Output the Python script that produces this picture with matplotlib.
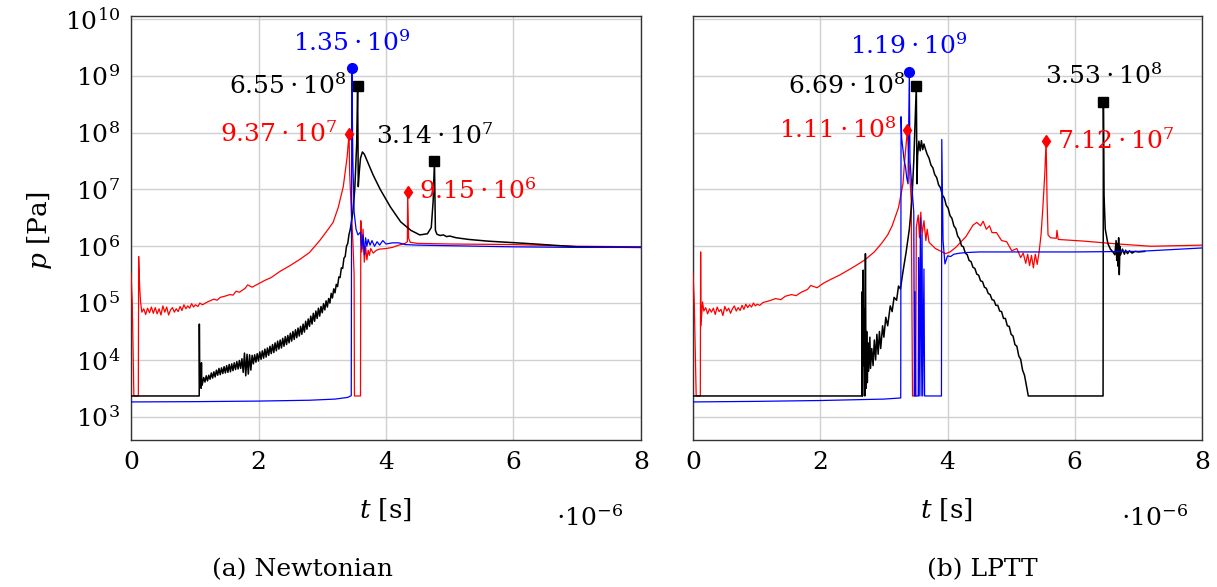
import numpy as np
import matplotlib
matplotlib.use("Agg")
import matplotlib.pyplot as plt
from matplotlib.ticker import FixedLocator, NullLocator

plt.rcParams['font.family'] = ['DejaVu Serif']
plt.rcParams['mathtext.fontset'] = 'dejavuserif'
FS = 18

# time axis in units of 1e-6 s, pressure stored as log10(p / Pa)

# ---- (a) Newtonian ----
newt_red_t = [0.00, 0.02, 0.045, 0.115, 0.12, 0.135, 0.15,
              0.17, 0.20, 0.23, 0.26, 0.29, 0.32, 0.35, 0.38, 0.41, 0.44, 0.47, 0.50,
              0.53, 0.56, 0.59, 0.62, 0.65, 0.68, 0.71, 0.74, 0.77, 0.80, 0.83, 0.86,
              0.89, 0.92, 0.95, 0.98, 1.01, 1.05, 1.08, 1.12, 1.20, 1.30, 1.35, 1.40,
              1.50, 1.55, 1.60, 1.65, 1.70, 1.79, 1.83, 1.90, 2.00, 2.10, 2.20, 2.34,
              2.48, 2.65, 2.80, 2.96, 3.08, 3.17, 3.25, 3.33, 3.39, 3.42,
              3.43, 3.46, 3.48, 3.50, 3.505, 3.60, 3.605, 3.62, 3.64, 3.66, 3.68, 3.70,
              3.72, 3.74, 3.76, 3.80, 3.85, 3.90, 4.00, 4.10, 4.20, 4.30, 4.335, 4.34,
              4.355, 4.38, 4.50, 5.00, 6.00, 7.00, 8.00]
newt_red_lp = [5.52, 5.00, 3.365, 3.365, 5.82, 5.30, 5.02,
               4.84, 4.90, 4.80, 4.91, 4.83, 4.93, 4.82, 4.92, 4.81, 4.90, 4.79, 4.95,
               4.84, 4.93, 4.79, 4.88, 4.92, 4.84, 4.90, 4.85, 4.94, 4.87, 4.97, 4.90,
               4.95, 4.91, 4.99, 4.93, 4.97, 4.94, 5.00, 4.97, 5.02, 5.07, 5.05, 5.10,
               5.13, 5.15, 5.14, 5.21, 5.19, 5.26, 5.32, 5.28, 5.34, 5.40, 5.45, 5.56,
               5.65, 5.77, 5.89, 6.10, 6.28, 6.42, 6.68, 7.05, 7.57, 7.9717,
               7.30, 6.50, 6.10, 5.50, 3.365, 3.365, 6.45, 5.90, 6.30, 5.72, 6.00, 5.76,
               5.93, 5.84, 5.96, 5.88, 5.93, 5.95, 5.96, 5.98, 6.02, 6.05, 6.08, 6.9614,
               6.14, 6.07, 6.05, 6.04, 6.03, 6.00, 5.99]

# black: floor, jump at t~1.07, then a dense noisy band rising to the peak
newt_black_t = [0.00, 1.07, 1.072, 1.078, 1.10, 1.105, 1.11,
                1.12, 1.14, 1.16, 1.18, 1.20, 1.22, 1.24, 1.26, 1.28, 1.30, 1.32, 1.34,
                1.36, 1.38, 1.40, 1.42, 1.44, 1.46, 1.48, 1.50, 1.52, 1.54, 1.56, 1.58,
                1.60, 1.62, 1.64, 1.66, 1.68, 1.70, 1.72, 1.74, 1.76, 1.78, 1.80, 1.82,
                1.84, 1.86, 1.88, 1.90, 1.92, 1.94, 1.96, 1.98, 2.00, 2.02, 2.04, 2.06,
                2.08, 2.10, 2.12, 2.14, 2.16, 2.18, 2.20, 2.22, 2.24, 2.26, 2.28, 2.30,
                2.32, 2.34, 2.36, 2.38, 2.40, 2.42, 2.44, 2.46, 2.48, 2.50, 2.52, 2.54,
                2.56, 2.58, 2.60, 2.62, 2.64, 2.66, 2.68, 2.70, 2.72, 2.74, 2.76, 2.78,
                2.80, 2.82, 2.84, 2.86, 2.88, 2.90, 2.92, 2.94, 2.96, 2.98, 3.00, 3.02,
                3.04, 3.06, 3.08, 3.10, 3.12, 3.14, 3.16, 3.18, 3.20, 3.22, 3.24, 3.26,
                3.28, 3.30, 3.32, 3.34, 3.36, 3.38, 3.40, 3.42, 3.44, 3.48, 3.51, 3.54,
                3.555,
                3.565, 3.58, 3.60, 3.63, 3.66, 3.72, 3.80, 3.91, 4.07, 4.23, 4.39, 4.53,
                4.65, 4.71, 4.74, 4.76, 4.775, 4.80, 4.85, 4.90, 4.95, 5.00, 5.10, 5.30,
                5.60, 6.20, 7.00, 8.00]
newt_black_lp = [3.365, 3.365, 4.63, 3.60, 3.50, 3.95, 3.55,
                 3.58, 3.69, 3.61, 3.72, 3.63, 3.73, 3.66, 3.77, 3.68, 3.79, 3.70, 3.82,
                 3.73, 3.85, 3.74, 3.86, 3.76, 3.88, 3.77, 3.90, 3.78, 3.92, 3.79, 3.93,
                 3.81, 3.95, 3.83, 3.97, 3.84, 3.99, 3.85, 4.02, 3.78, 4.12, 3.72, 4.10,
                 3.75, 4.09, 3.82, 4.08, 3.93, 4.09, 3.96, 4.11, 3.98, 4.14, 4.01, 4.16,
                 4.03, 4.19, 4.05, 4.21, 4.08, 4.24, 4.11, 4.27, 4.13, 4.30, 4.16, 4.33,
                 4.19, 4.35, 4.21, 4.38, 4.24, 4.41, 4.27, 4.43, 4.30, 4.47, 4.33, 4.50,
                 4.36, 4.53, 4.39, 4.56, 4.42, 4.59, 4.45, 4.63, 4.49, 4.68, 4.54, 4.72,
                 4.59, 4.77, 4.63, 4.82, 4.68, 4.86, 4.73, 4.91, 4.77, 4.94, 4.83, 4.99,
                 4.88, 5.04, 4.93, 5.08, 5.00, 5.17, 5.09, 5.25, 5.18, 5.33, 5.29, 5.46,
                 5.45, 5.62, 5.61, 5.79, 5.82, 6.00, 6.05, 6.21, 6.30, 6.60, 7.00, 7.80,
                 8.8162,
                 7.05, 7.30, 7.55, 7.66, 7.62, 7.46, 7.25, 7.00, 6.69, 6.43, 6.28, 6.20,
                 6.22, 6.33, 6.80, 7.4969, 6.28, 6.21, 6.19, 6.20, 6.17, 6.18, 6.15, 6.12,
                 6.09, 6.05, 5.99, 5.98]

newt_blue_t = [0.00, 1.00, 2.00, 2.80, 3.20, 3.40, 3.455, 3.464, 3.48, 3.50, 3.53,
               3.56, 3.60, 3.62, 3.64, 3.66, 3.68, 3.70, 3.72, 3.75, 3.78, 3.82, 3.86,
               3.90, 3.95, 4.00, 4.10, 4.20, 4.30, 4.50, 5.00, 6.00, 7.00, 8.00]
newt_blue_lp = [3.26, 3.265, 3.275, 3.29, 3.31, 3.34, 3.37, 9.1303, 7.50, 6.60, 6.30,
                6.20, 6.25, 5.95, 6.20, 5.85, 6.15, 6.00, 6.12, 6.02, 6.10, 6.00, 6.08,
                6.02, 6.10, 6.04, 6.06, 6.06, 6.03, 6.02, 6.01, 5.99, 5.98, 5.98]

newt_peak_t = {'blue': [3.464], 'black': [3.555, 4.76], 'red': [3.42, 4.34]}
newt_peak_p = {'blue': [1.35e9], 'black': [6.55e8, 3.14e7], 'red': [9.37e7, 9.15e6]}

# ---- (b) LPTT ----
lptt_red_t = [0.00, 0.02, 0.05, 0.115, 0.12, 0.125, 0.15,
              0.17, 0.20, 0.23, 0.26, 0.29, 0.32, 0.35, 0.38, 0.41, 0.44, 0.47, 0.50,
              0.53, 0.56, 0.59, 0.62, 0.65, 0.68, 0.71, 0.74, 0.77, 0.80, 0.83, 0.86,
              0.89, 0.92, 0.95, 0.98, 1.01, 1.05, 1.10, 1.20, 1.30, 1.38, 1.45, 1.55,
              1.62, 1.70, 1.80, 1.85, 1.95, 2.05, 2.17, 2.30, 2.44, 2.56, 2.70, 2.85,
              2.97, 3.06, 3.13, 3.23, 3.30, 3.33, 3.37,
              3.39, 3.43, 3.45, 3.50, 3.51, 3.54, 3.56, 3.58, 3.60, 3.63, 3.66, 3.68,
              3.71, 3.81, 3.97, 4.04, 4.13, 4.29, 4.40, 4.46, 4.52, 4.56, 4.61, 4.66,
              4.70, 4.77, 4.85, 4.93, 5.01, 5.09, 5.15, 5.19, 5.23, 5.26, 5.29, 5.32,
              5.35, 5.38, 5.41, 5.44, 5.47, 5.50, 5.53, 5.55, 5.565, 5.58, 5.62, 5.71,
              5.72, 5.74, 6.15, 6.68, 7.20, 8.00]
lptt_red_lp = [5.52, 5.00, 3.365, 3.365, 5.90, 4.60, 5.02,
               4.86, 4.92, 4.81, 4.90, 4.84, 4.91, 4.80, 4.93, 4.85, 4.89, 4.78, 4.94,
               4.86, 4.91, 4.82, 4.90, 4.95, 4.86, 4.92, 4.87, 4.96, 4.89, 4.98, 4.92,
               4.97, 4.93, 5.00, 4.95, 4.98, 4.96, 5.01, 5.04, 5.08, 5.06, 5.12, 5.15,
               5.13, 5.19, 5.24, 5.31, 5.27, 5.35, 5.42, 5.49, 5.58, 5.66, 5.76, 5.90,
               6.06, 6.20, 6.36, 6.68, 7.10, 7.55, 8.0453,
               7.57, 6.81, 3.365, 3.365, 6.34, 6.55, 6.15, 6.60, 6.20, 6.45, 6.10, 6.30,
               6.07, 5.96, 5.87, 5.90, 5.98, 6.17, 6.37, 6.42, 6.36, 6.44, 6.30, 6.36,
               6.24, 6.24, 6.10, 6.08, 5.92, 5.96, 5.80, 5.88, 5.70, 5.86, 5.66, 5.84,
               5.62, 5.86, 5.68, 5.90, 6.20, 6.70, 7.30, 7.8525, 6.80, 6.20, 6.15, 6.14,
               6.28, 6.12, 6.09, 6.04, 6.00, 6.02]

lptt_black_t = [0.00, 2.655, 2.66, 2.665, 2.675, 2.685, 2.695, 2.70, 2.71, 2.72,
                2.73, 2.74, 2.75, 2.76, 2.78, 2.79, 2.81, 2.83, 2.85, 2.87, 2.89, 2.91,
                2.93, 2.95, 2.98, 3.00, 3.03, 3.06, 3.10, 3.13, 3.16, 3.20, 3.23, 3.26,
                3.30, 3.35, 3.40, 3.44, 3.47, 3.51,
                3.52, 3.53, 3.55, 3.57, 3.59, 3.61, 3.63, 3.65, 3.68,
                3.71, 3.74, 3.77, 3.80, 3.83, 3.86, 3.89, 3.92, 3.95, 3.98, 4.01, 4.04,
                4.07, 4.10, 4.13, 4.16, 4.19, 4.22, 4.25, 4.28, 4.31, 4.34, 4.37, 4.40,
                4.43, 4.46, 4.49, 4.52, 4.55, 4.58, 4.61, 4.64, 4.67, 4.70, 4.73, 4.76,
                4.79, 4.82, 4.85, 4.88, 4.91, 4.94, 4.97, 5.00, 5.03, 5.06, 5.09, 5.12,
                5.15, 5.18, 5.21, 5.24, 5.27, 6.445, 6.45,
                6.46, 6.48, 6.52, 6.56, 6.60, 6.63, 6.65, 6.66, 6.67, 6.68, 6.69, 6.70,
                6.71, 6.72, 6.75, 6.78, 6.80, 6.83, 6.86, 6.90, 6.95, 7.00, 7.10]
lptt_black_lp = [3.365, 3.365, 5.20, 3.365, 5.58, 3.90, 4.90, 3.365, 5.87, 3.50,
                 4.50, 3.60, 4.30, 3.80, 4.40, 3.85, 4.20, 3.90, 4.35, 4.00, 4.45, 4.10,
                 4.50, 4.20, 4.60, 4.40, 4.75, 4.60, 4.95, 4.85, 5.10, 5.05, 5.30, 5.25,
                 5.55, 5.90, 6.30, 6.80, 7.50, 8.8254,
                 7.10, 7.60, 7.85, 7.68, 7.86, 7.70, 7.80, 7.72, 7.62,
                 7.55, 7.43, 7.38, 7.26, 7.21, 7.08, 7.03, 6.90, 6.85, 6.72, 6.67, 6.54,
                 6.49, 6.36, 6.31, 6.18, 6.13, 6.01, 5.99, 5.88, 5.85, 5.75, 5.73, 5.63,
                 5.61, 5.51, 5.49, 5.39, 5.38, 5.28, 5.26, 5.17, 5.15, 5.06, 5.05, 4.96,
                 4.96, 4.86, 4.85, 4.73, 4.73, 4.60, 4.59, 4.45, 4.42, 4.27, 4.24, 4.07,
                 4.01, 3.82, 3.73, 3.55, 3.365, 3.365, 8.5478,
                 6.90, 6.30, 6.05, 5.95, 5.90, 5.85, 6.10, 5.75, 6.05, 5.65, 6.15, 5.50,
                 6.00, 5.85, 5.95, 5.86, 5.93, 5.87, 5.92, 5.88, 5.91, 5.90, 5.91]

lptt_blue_t = [0.00, 1.00, 2.00, 3.00, 3.265, 3.27, 3.28, 3.30, 3.32, 3.34, 3.36,
               3.38, 3.40, 3.41, 3.43, 3.45, 3.47, 3.48, 3.49, 3.50, 3.54, 3.545, 3.555,
               3.575, 3.585, 3.60, 3.61, 3.63, 3.64, 3.905, 3.91, 3.93, 3.96, 4.00,
               4.05, 4.10, 4.20, 4.30, 4.50, 5.00, 6.00, 7.00, 7.50, 8.00]
lptt_blue_lp = [3.26, 3.27, 3.285, 3.31, 3.33, 8.28, 7.90, 7.70, 7.50, 7.40, 7.20,
                7.10, 9.0755, 7.50, 7.20, 6.90, 6.60, 3.365, 5.20, 3.365, 3.365, 5.80,
                3.365, 6.50, 3.365, 6.20, 3.365, 5.60, 3.365, 3.365, 7.88, 6.10, 5.69,
                5.83, 5.82, 5.86, 5.88, 5.89, 5.90, 5.90, 5.90, 5.91, 5.94, 5.97]

lptt_peak_t = {'blue': [3.40], 'black': [3.51, 6.45], 'red': [3.37, 5.55]}
lptt_peak_p = {'blue': [1.19e9], 'black': [6.69e8, 3.53e8], 'red': [1.11e8, 7.12e7]}

# where each peak label sits relative to its marker
newt_label_pos = {'blue': ['above'], 'black': ['left', 'above'], 'red': ['left', 'right']}
lptt_label_pos = {'blue': ['above'], 'black': ['left', 'above'], 'red': ['left', 'right']}

colors = {'red': '#ff0000', 'black': '#000000', 'blue': '#0000ff'}
markers = {'red': ('d', 6), 'black': ('s', 7), 'blue': ('o', 7)}
widths = {'red': 0.9, 'black': 1.1, 'blue': 0.9}


def sci(v):
    e = int(np.floor(np.log10(v)))
    return r'$%.2f\cdot10^{%d}$' % (v / 10**e, e)


def draw_panel(ax, curves, peak_t, peak_p, label_pos):
    for name in ['red', 'black', 'blue']:
        t, lp = curves[name]
        ax.plot(t, 10 ** np.asarray(lp), color=colors[name], lw=widths[name], zorder=3)
    for name in ['red', 'black', 'blue']:
        m, ms = markers[name]
        for tx, p, pos in zip(peak_t[name], peak_p[name], label_pos[name]):
            ax.plot([tx], [p], marker=m, ms=ms, color=colors[name], zorder=4)
            if pos == 'above':
                off, ha, va = (0, 18), 'center', 'center'
            elif pos == 'left':
                off, ha, va = (-8, 0), 'right', 'center'
            else:
                off, ha, va = (8, 0), 'left', 'center'
            ax.annotate(sci(p), (tx, p), xytext=off, textcoords='offset points',
                        ha=ha, va=va, color=colors[name], fontsize=FS, zorder=5)

    ax.set_yscale('log')
    ax.set_xlim(0, 8)
    ax.set_ylim(10 ** 2.59, 10 ** 10.053)
    ax.xaxis.set_major_locator(FixedLocator([0, 2, 4, 6, 8]))
    ax.yaxis.set_major_locator(FixedLocator([10.0 ** k for k in range(3, 11)]))
    ax.yaxis.set_minor_locator(NullLocator())
    ax.grid(True, color='#d0d0d0', lw=1.0, zorder=0)
    ax.tick_params(length=0, labelsize=FS, pad=8)
    for s in ax.spines.values():
        s.set_color('#333333')
        s.set_linewidth(1.0)


fig = plt.figure(figsize=(12.17, 5.87), dpi=100)
ax1 = fig.add_axes([131 / 1217, 1 - 440 / 587, 510 / 1217, 424 / 587])
ax2 = fig.add_axes([693 / 1217, 1 - 440 / 587, 509 / 1217, 424 / 587])

draw_panel(ax1,
           {'red': (newt_red_t, newt_red_lp), 'black': (newt_black_t, newt_black_lp),
            'blue': (newt_blue_t, newt_blue_lp)},
           newt_peak_t, newt_peak_p, newt_label_pos)
draw_panel(ax2,
           {'red': (lptt_red_t, lptt_red_lp), 'black': (lptt_black_t, lptt_black_lp),
            'blue': (lptt_blue_t, lptt_blue_lp)},
           lptt_peak_t, lptt_peak_p, lptt_label_pos)
ax2.tick_params(labelleft=False)

W, H = 1217, 587
fig.text(40 / W, 1 - 230 / H, r'$p\ [\mathrm{Pa}]$', rotation=90, ha='center', va='center', fontsize=FS + 1)
for xc, xo in [(385, 590), (946, 1155)]:
    fig.text(xc / W, 1 - 510 / H, r'$t\ [\mathrm{s}]$', ha='center', va='center', fontsize=FS + 1)
    fig.text(xo / W, 1 - 518 / H, r'$\cdot10^{-6}$', ha='center', va='center', fontsize=FS)
fig.text(303 / W, 1 - 570 / H, '(a) Newtonian', ha='center', va='center', fontsize=FS)
fig.text(982 / W, 1 - 570 / H, '(b) LPTT', ha='center', va='center', fontsize=FS)

fig.savefig('out.png', dpi=100)
